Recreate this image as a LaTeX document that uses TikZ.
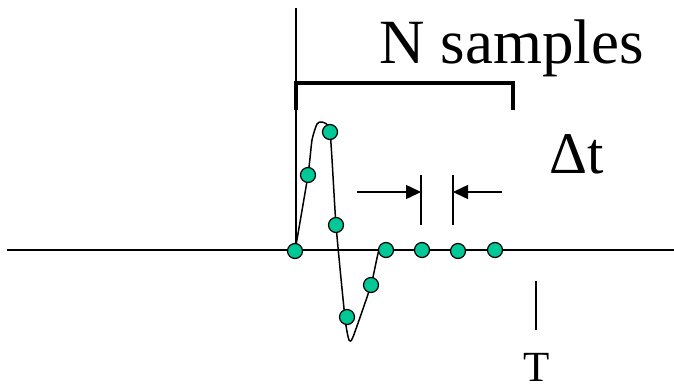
\documentclass[tikz,border=0pt]{standalone}
\usepackage{fontspec}
\setmainfont{Liberation Serif}
\newfontfamily\timesfont{Liberation Serif}
\usetikzlibrary{arrows.meta}
\definecolor{dotgreen}{RGB}{0,200,150}
\tikzset{
  sample/.style={circle,draw=black,line width=1.2pt,fill=dotgreen,minimum size=15pt,inner sep=0pt},
  axis/.style={line width=1.6pt},
  bracketline/.style={line width=4.5pt},
  dimarrow/.style={line width=1.5pt,-{Triangle[length=15pt,width=14pt]}},
  bigtext/.style={font=\timesfont\fontsize{63}{72}\selectfont,inner sep=0pt,anchor=base},
}
\begin{document}
\begin{tikzpicture}[x=1pt,y=-1pt]
\useasboundingbox (0,0) rectangle (674,389);
% axes
\coordinate (axL) at (7,250);
\coordinate (axR) at (674,250);
\coordinate (vtop) at (296,8);
\coordinate (vbot) at (296,250);
\draw[axis] (axL) -- (axR);
\draw[axis] (vtop) -- (vbot);
% bracket
\coordinate (bl) at (296,110);
\coordinate (blt) at (296,83);
\coordinate (brt) at (513,83);
\coordinate (br) at (513,110);
\draw[bracketline] (bl) -- (blt) -- (brt) -- (br);
\node[bigtext] (ns) at (511.5,63) {N samples};
% waveform
\draw[line width=1.5pt,line join=round] plot[smooth,tension=0.35] coordinates
 {(295,251) (308,175) (312,140) (317,124) (322,122) (330,132) (336,225) (345,318) (349,340) (353,337) (371,285) (379,250) (386,250)};
% samples
\node[sample] (s1) at (295,251) {};
\node[sample] (s2) at (308,175) {};
\node[sample] (s3) at (330,132) {};
\node[sample] (s4) at (336,225) {};
\node[sample] (s5) at (347,317) {};
\node[sample] (s6) at (371,285) {};
\node[sample] (s7) at (386,250) {};
\node[sample] (s8) at (422,250) {};
\node[sample] (s9) at (458,251) {};
\node[sample] (s10) at (495,250) {};
% delta t markers
\coordinate (m1t) at (421,175);
\coordinate (m1b) at (421,225);
\coordinate (m2t) at (453,175);
\coordinate (m2b) at (453,225);
\draw[line width=1.5pt] (m1t) -- (m1b);
\draw[line width=1.5pt] (m2t) -- (m2b);
\coordinate (a1s) at (357,192);
\coordinate (a1e) at (421,192);
\coordinate (a2s) at (502,192);
\coordinate (a2e) at (453,192);
\draw[dimarrow] (a1s) -- (a1e);
\draw[dimarrow] (a2s) -- (a2e);
\node[bigtext,font=\timesfont\fontsize{59}{68}\selectfont] (dt) at (577,173) {Δt};
% T marker
\coordinate (tt) at (536,281);
\coordinate (tb) at (536,330);
\draw[line width=1.5pt] (tt) -- (tb);
\node[bigtext,font=\timesfont\fontsize{43}{50}\selectfont] (T) at (536.5,381) {T};
\end{tikzpicture}
\end{document}
